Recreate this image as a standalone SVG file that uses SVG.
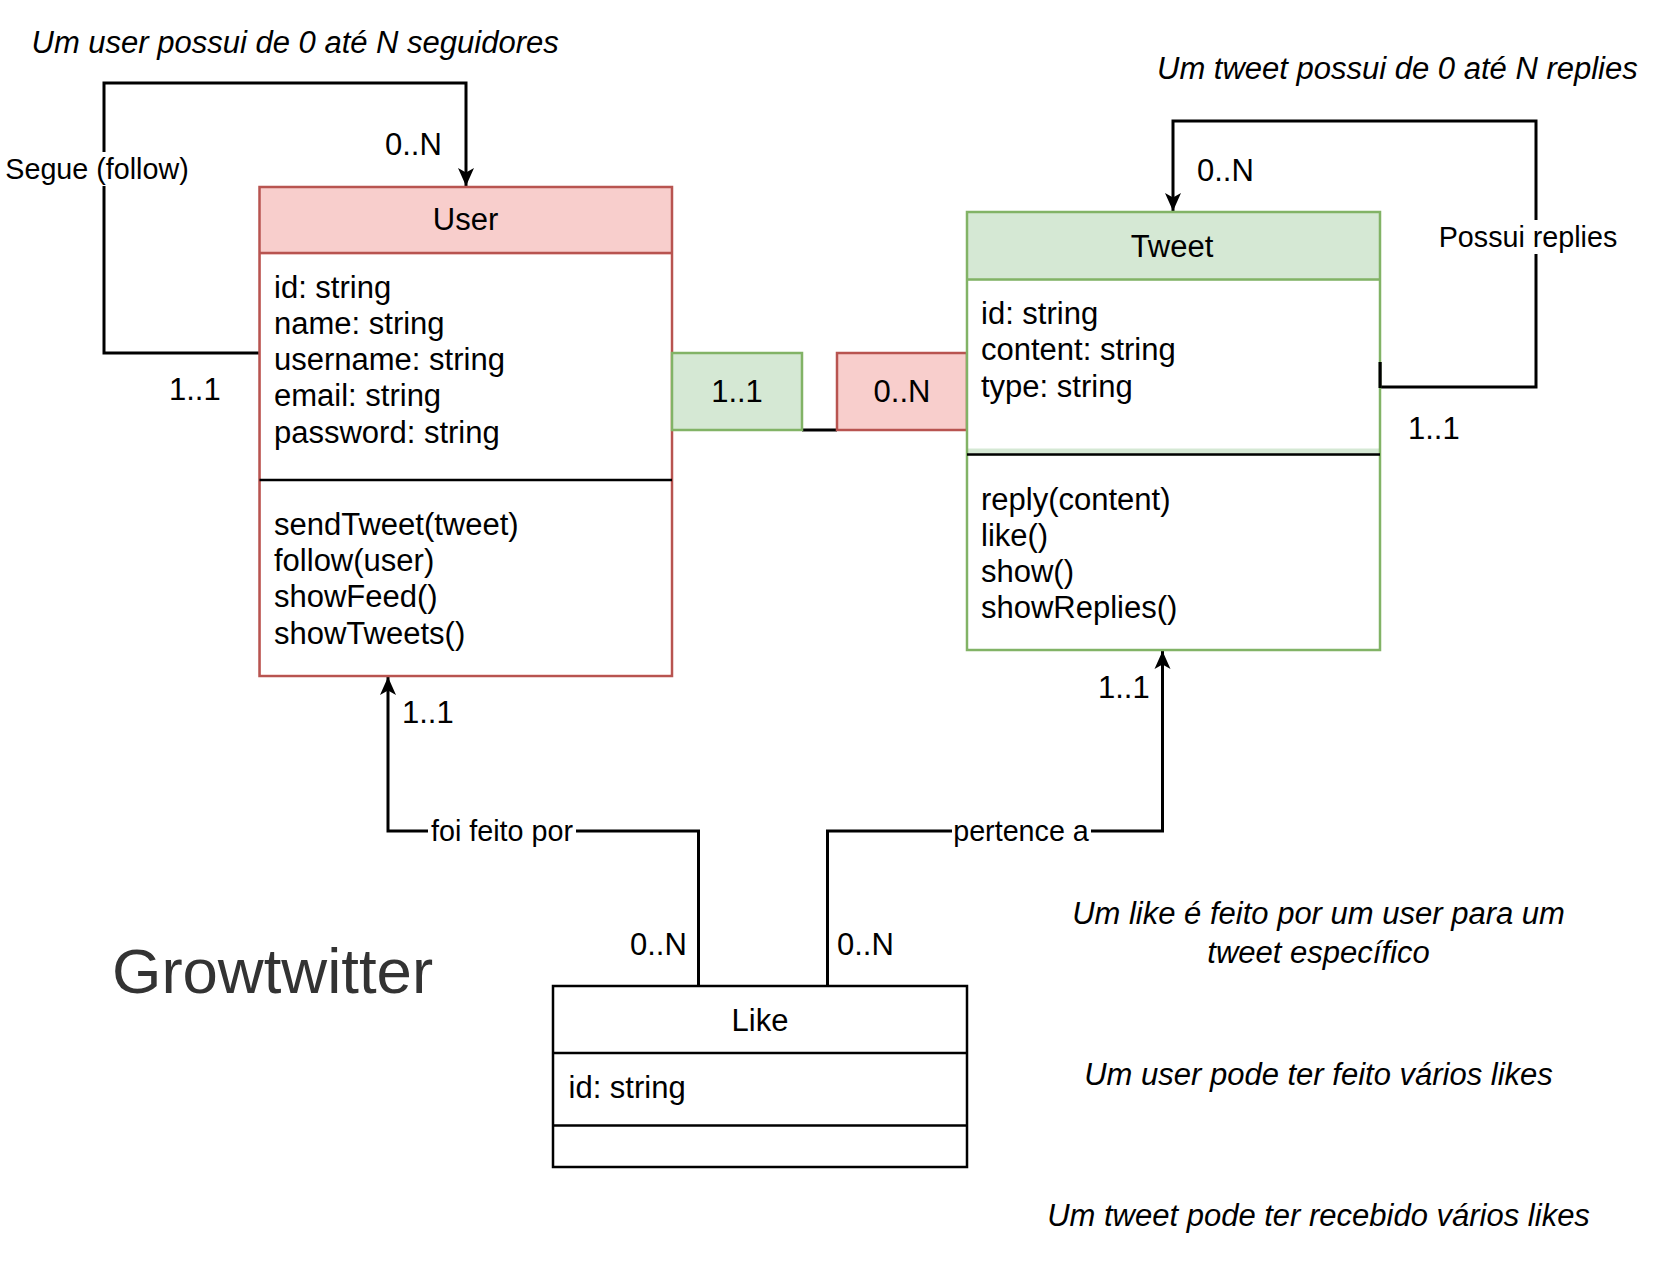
<svg xmlns="http://www.w3.org/2000/svg" width="1654" height="1268" viewBox="0 0 1654 1268">
<style>
text{font-family:"Liberation Sans",Arial,Helvetica,sans-serif;font-size:31px;fill:#000}
.it{font-style:italic}
.lbl{font-size:28.7px}
.c{text-anchor:middle}
.box{stroke-width:2.5}
.red{fill:#f8cecc;stroke:#b85450}
.green{fill:#d5e8d4;stroke:#82b366}
.plain{fill:#fff;stroke:#000}
.div{stroke:#000;stroke-width:2.5;fill:none}
.edge{fill:none;stroke:#000;stroke-width:3}
.bg{fill:#fff}
</style>
<defs>
<marker id="arr" viewBox="0 0 18 18" refX="18" refY="9" markerWidth="18" markerHeight="18" markerUnits="userSpaceOnUse" orient="auto">
<path d="M0 1 L18 9 L0 17 L4.5 9 Z" fill="#000"/>
</marker>
</defs>
<rect width="1654" height="1268" fill="#fff"/>

<g id="connectors">
<path class="edge" d="M259.5 353 H104 V83 H466 V186" marker-end="url(#arr)"/>
<path class="edge" d="M1380 362 V387 H1536 V121 H1173 V211" marker-end="url(#arr)"/>
<path class="edge" d="M698.5 986 V831 H388 V677" marker-end="url(#arr)"/>
<path class="edge" d="M827.5 986 V831 H1162.5 V651" marker-end="url(#arr)"/>
<path class="edge" d="M802 430 H837"/>
<rect class="bg" x="3" y="152" width="189" height="34"/>
<text class="lbl" x="97" y="179" text-anchor="middle">Segue (follow)</text>
<rect class="bg" x="1438" y="220" width="180" height="34"/>
<text class="lbl" x="1528" y="247" text-anchor="middle">Possui replies</text>
<rect class="bg" x="428" y="814" width="148" height="34"/>
<text class="lbl" x="502" y="841" text-anchor="middle">foi feito por</text>
<rect class="bg" x="952" y="814" width="139" height="34"/>
<text class="lbl" x="1021" y="841" text-anchor="middle">pertence a</text>
<text x="385" y="155">0..N</text>
<text x="169" y="400">1..1</text>
<text x="1197" y="181">0..N</text>
<text x="1408" y="439">1..1</text>
<text x="402" y="723">1..1</text>
<text x="1098" y="698">1..1</text>
<text x="630" y="955">0..N</text>
<text x="837" y="955">0..N</text>
</g>

<g id="user">
<rect class="box red" x="259.5" y="187" width="412.5" height="489"/>
<rect x="261" y="254.5" width="409.5" height="420" fill="#fff"/>
<line x1="259.5" y1="253" x2="672" y2="253" stroke="#b85450" stroke-width="2.5"/>
<line class="div" x1="259.5" y1="480" x2="672" y2="480"/>
<text class="c" x="465.5" y="230">User</text>
<text x="274" y="297.5">id: string</text>
<text x="274" y="333.5">name: string</text>
<text x="274" y="370">username: string</text>
<text x="274" y="406">email: string</text>
<text x="274" y="442.5">password: string</text>
<text x="274" y="534.5">sendTweet(tweet)</text>
<text x="274" y="570.5">follow(user)</text>
<text x="274" y="607">showFeed()</text>
<text x="274" y="643.5">showTweets()</text>
</g>

<g id="user-mult">
<rect class="box green" x="672" y="353" width="130" height="77"/>
<text class="c" x="737" y="401.5">1..1</text>
</g>

<g id="tweet-mult">
<rect class="box red" x="837" y="353" width="130" height="77"/>
<text class="c" x="902" y="401.5">0..N</text>
</g>

<g id="tweet">
<rect class="box green" x="967" y="212" width="413" height="438"/>
<rect x="968.5" y="280.5" width="410" height="168" fill="#fff"/>
<rect x="968.5" y="456" width="410" height="192.5" fill="#fff"/>
<line x1="967" y1="279.5" x2="1380" y2="279.5" stroke="#82b366" stroke-width="2.5"/>
<line class="div" x1="967" y1="454.5" x2="1380" y2="454.5"/>
<line x1="1380" y1="362" x2="1380" y2="388" stroke="#000" stroke-width="3"/>
<text class="c" x="1172" y="256.5">Tweet</text>
<text x="981" y="323.5">id: string</text>
<text x="981" y="359.5">content: string</text>
<text x="981" y="396.5">type: string</text>
<text x="981" y="509.5">reply(content)</text>
<text x="981" y="545.5">like()</text>
<text x="981" y="582">show()</text>
<text x="981" y="618">showReplies()</text>
</g>

<g id="like">
<rect class="box plain" x="553" y="986" width="414" height="181"/>
<line class="div" x1="553" y1="1053" x2="967" y2="1053" stroke-width="3"/>
<line class="div" x1="553" y1="1125.5" x2="967" y2="1125.5" stroke-width="3"/>
<text class="c" x="760" y="1030.5">Like</text>
<text x="568.5" y="1098">id: string</text>
</g>

<g id="notes">
<text class="it" x="31.5" y="52.5">Um user possui de 0 até N seguidores</text>
<text class="it" x="1157" y="79">Um tweet possui de 0 até N replies</text>
<text class="it c" x="1318.5" y="924">Um like é feito por um user para um</text>
<text class="it c" x="1318.5" y="963">tweet específico</text>
<text class="it c" x="1318.5" y="1084.5">Um user pode ter feito vários likes</text>
<text class="it c" x="1318.5" y="1225.5">Um tweet pode ter recebido vários likes</text>
<text x="112" y="993" style="font-size:63.5px;fill:#333333">Growtwitter</text>
</g>
</svg>
